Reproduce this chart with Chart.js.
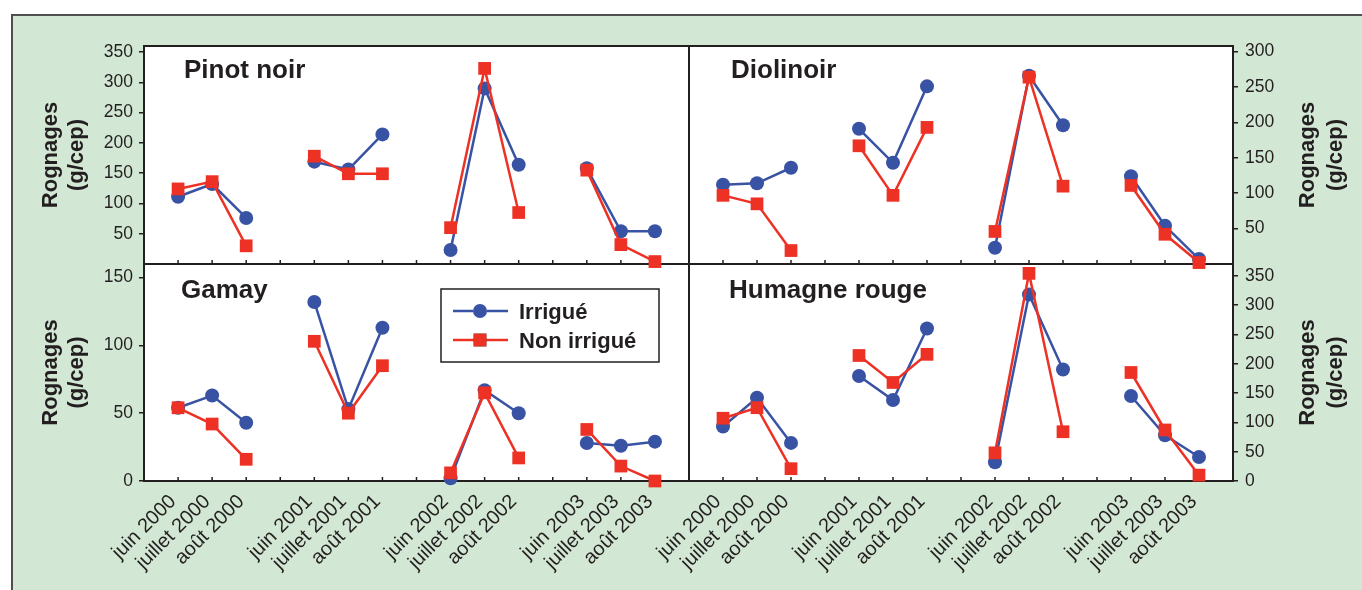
<!DOCTYPE html>
<html>
<head>
<meta charset="utf-8">
<title>Rognages</title>
<script src="https://cdn.jsdelivr.net/npm/chart.js@4.4.1/dist/chart.umd.min.js"></script>
<style>
  html, body { margin: 0; padding: 0; background: #ffffff; overflow: hidden; width: 1362px; height: 590px; }
  #frame {
    position: absolute; left: 11px; top: 14px; width: 1420px; height: 640px;
    background: #d3e8d4; border-top: 2px solid #4f4f4f; border-left: 2px solid #4f4f4f;
  }
  canvas { position: absolute; left: 0; top: 0; }
</style>
</head>
<body>
<div id="frame"></div>
<canvas id="gamay" width="1362" height="590"></canvas>
<canvas id="humagne" width="1362" height="590"></canvas>
<canvas id="pinot" width="1362" height="590"></canvas>
<canvas id="diolinoir" width="1362" height="590"></canvas>
<script>
// Months sampled each season, and the seasons
const months = ['juin', 'juillet', 'août'];
const years = ['2000', '2001', '2002', '2003'];

// Rognages (g/cep), juin → août for 2000, 2001, 2002, 2003
const pinotIrrigue       = [111, 132, 76, 169, 156, 214, 23, 290, 164, 158, 54, 54];
const pinotNonIrrigue    = [124, 136, 30, 178, 149, 149, 60, 323, 85, 155, 32, 4];
const diolinoirIrrigue   = [112, 114, 136, 191, 143, 251, 23, 266, 196, 124, 54, 7];
const diolinoirNonIrrigue= [97, 85, 19, 167, 97, 193, 46, 264, 110, 111, 42, 2];
const gamayIrrigue       = [54, 63, 43, 132, 53, 113, 2, 67, 50, 28, 26, 29];
const gamayNonIrrigue    = [54, 42, 16, 103, 50, 85, 6, 65, 17, 38, 11, 0];
const humagneIrrigue     = [93, 142, 65, 179, 138, 260, 32, 318, 190, 145, 78, 41];
const humagneNonIrrigue  = [107, 125, 21, 214, 168, 216, 48, 354, 84, 185, 87, 10];

// Y-axis tick labels of each panel
const pinotTicks     = [50, 100, 150, 200, 250, 300, 350];
const diolinoirTicks = [50, 100, 150, 200, 250, 300];
const gamayTicks     = [0, 50, 100, 150];
const humagneTicks   = [0, 50, 100, 150, 200, 250, 300, 350];

const seriesNames = ['Irrigué', 'Non irrigué'];
const axisTitle = ['Rognages', '(g/cep)'];

const FONT = "'Liberation Sans', Arial, Helvetica, sans-serif";
const INK = '#231f20';
const BLUE = '#3953a4';
const RED = '#ed3124';

// Category slots: an empty slot before, between and after the seasons
const labels = [''];
years.forEach(y => { months.forEach(m => labels.push(m + ' ' + y)); labels.push(''); });

function slots(values) {
  const out = [null];
  years.forEach((y, i) => {
    for (let k = 0; k < months.length; k++) out.push(values[i * months.length + k]);
    out.push(null);
  });
  return out;
}

// White plot area, its frame, inward tick marks, panel name and axis title
const panelPlugin = {
  id: 'panel',
  beforeDraw(chart) {
    const { ctx, chartArea: a } = chart;
    ctx.save();
    ctx.fillStyle = '#ffffff';
    ctx.fillRect(a.left, a.top, a.right - a.left, a.bottom - a.top);
    ctx.restore();
  },
  beforeDatasetsDraw(chart, args, opts) {
    const { ctx, chartArea: a, scales } = chart;
    ctx.save();
    ctx.strokeStyle = INK;
    ctx.lineWidth = 2;
    ctx.strokeRect(a.left, a.top, a.right - a.left, a.bottom - a.top);

    ctx.lineWidth = 1.5;
    const xs = scales.x;
    for (let i = 1; i < labels.length - 1; i++) {
      const px = xs.getPixelForValue(i);
      ctx.beginPath();
      ctx.moveTo(px, a.bottom);
      ctx.lineTo(px, a.bottom - 4);
      ctx.stroke();
    }

    ctx.fillStyle = INK;
    ctx.textAlign = 'left';
    ctx.textBaseline = 'alphabetic';
    ctx.font = 'bold 26px ' + FONT;
    ctx.fillText(opts.name, opts.nameX, opts.nameY);

    ctx.font = 'bold 22px ' + FONT;
    ctx.textAlign = 'center';
    const cy = (a.top + a.bottom) / 2;
    axisTitle.forEach((line, i) => {
      ctx.save();
      ctx.translate(opts.titleX[i], cy);
      ctx.rotate(-Math.PI / 2);
      ctx.fillText(line, 0, 0);
      ctx.restore();
    });
    ctx.restore();
  }
};

// Boxed legend drawn inside the Gamay panel
const keyPlugin = {
  id: 'key',
  afterDatasetsDraw(chart, args, opts) {
    if (!opts.show) return;
    const { ctx } = chart;
    ctx.save();
    ctx.fillStyle = '#ffffff';
    ctx.fillRect(441, 289, 218, 73);
    ctx.strokeStyle = INK;
    ctx.lineWidth = 1.5;
    ctx.strokeRect(441, 289, 218, 73);
    chart.data.datasets.forEach((ds, i) => {
      const y = [311, 340][i];
      ctx.strokeStyle = ds.borderColor;
      ctx.lineWidth = ds.borderWidth;
      ctx.beginPath();
      ctx.moveTo(453, y);
      ctx.lineTo(508, y);
      ctx.stroke();
      Chart.helpers.drawPoint(ctx, {
        pointStyle: ds.pointStyle, radius: ds.pointRadius, rotation: 0, borderWidth: 0
      }, 480, y);
      ctx.fillStyle = ds.backgroundColor;
      ctx.fill();
      ctx.fillStyle = INK;
      ctx.font = 'bold 22px ' + FONT;
      ctx.textAlign = 'left';
      ctx.textBaseline = 'alphabetic';
      ctx.fillText(ds.label, 519, y + 8);
    });
    ctx.restore();
  }
};

function makePanel(id, cfg) {
  const datasets = [
    { label: seriesNames[0], data: slots(cfg.irr), borderColor: BLUE, backgroundColor: BLUE,
      borderWidth: 2.5, pointStyle: 'circle', pointRadius: 7, pointBorderWidth: 0, order: 1, clip: false },
    { label: seriesNames[1], data: slots(cfg.non), borderColor: RED, backgroundColor: RED,
      borderWidth: 2.5, pointStyle: 'rect', pointRadius: 9, pointBorderWidth: 0, order: 0, clip: false }
  ];
  return new Chart(document.getElementById(id), {
    type: 'line',
    data: { labels, datasets },
    plugins: [panelPlugin, keyPlugin],
    options: {
      responsive: false,
      animation: false,
      devicePixelRatio: 1,
      events: [],
      layout: { padding: cfg.padding },
      plugins: {
        legend: { display: false },
        tooltip: { enabled: false },
        panel: { name: cfg.name, nameX: cfg.nameX, nameY: cfg.nameY, titleX: cfg.titleX },
        key: { show: !!cfg.key }
      },
      scales: {
        x: {
          type: 'category',
          offset: false,
          grid: { display: false, drawTicks: false },
          border: { display: false },
          ticks: {
            display: cfg.xLabels, autoSkip: false, maxRotation: 45, minRotation: 45,
            padding: 9, labelOffset: -5, color: INK, font: { family: FONT, size: 20 }
          },
          afterFit: s => { s.height = cfg.xLabels ? 100 : 0; }
        },
        y: {
          position: cfg.side,
          min: 0,
          max: cfg.max,
          grid: { display: true, drawOnChartArea: false, drawTicks: true, tickLength: 5, color: INK, lineWidth: 1.5 },
          border: { display: false },
          ticks: { padding: cfg.side === 'left' ? 6 : 7, color: INK, font: { family: FONT, size: 17.5 } },
          afterBuildTicks: s => { s.ticks = cfg.ticks.map(v => ({ value: v })); },
          afterFit: s => { s.width = 80; }
        }
      }
    }
  });
}

makePanel('gamay', {
  name: 'Gamay', nameX: 181, nameY: 298, titleX: [57, 83],
  irr: gamayIrrigue, non: gamayNonIrrigue, ticks: gamayTicks, max: 160, side: 'left',
  padding: { left: 64, right: 673, top: 264, bottom: 9 }, xLabels: true, key: true
});
makePanel('humagne', {
  name: 'Humagne rouge', nameX: 729, nameY: 298, titleX: [1314, 1342],
  irr: humagneIrrigue, non: humagneNonIrrigue, ticks: humagneTicks, max: 370, side: 'right',
  padding: { left: 689, right: 49, top: 264, bottom: 9 }, xLabels: true
});
makePanel('pinot', {
  name: 'Pinot noir', nameX: 184, nameY: 78, titleX: [57, 83],
  irr: pinotIrrigue, non: pinotNonIrrigue, ticks: pinotTicks, max: 360, side: 'left',
  padding: { left: 64, right: 673, top: 46, bottom: 326 }, xLabels: false
});
makePanel('diolinoir', {
  name: 'Diolinoir', nameX: 731, nameY: 78, titleX: [1314, 1342],
  irr: diolinoirIrrigue, non: diolinoirNonIrrigue, ticks: diolinoirTicks, max: 308, side: 'right',
  padding: { left: 689, right: 49, top: 46, bottom: 326 }, xLabels: false
});
</script>
</body>
</html>
